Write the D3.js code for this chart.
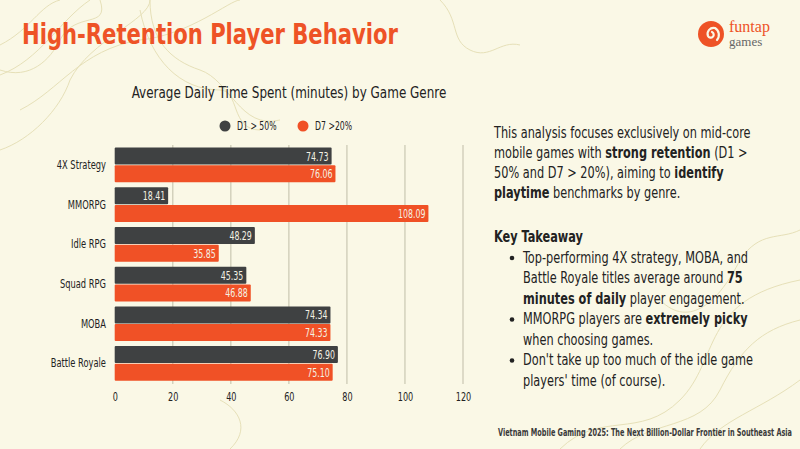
<!DOCTYPE html>
<html>
<head>
    <title></title>
    <meta charset="utf-8">
    <style>
        body { margin: 0; background: #FAF8E6; }
        svg { display: block; }
        text { font-family: 'DejaVu Sans Condensed', 'DejaVu Sans', sans-serif; }
    </style>
</head>
<body>
<script src="https://cdn.jsdelivr.net/npm/d3@7"></script>
<script>
    var genres = ['4X Strategy', 'MMORPG', 'Idle RPG', 'Squad RPG', 'MOBA', 'Battle Royale'];
    var d1 = [74.73, 18.41, 48.29, 45.35, 74.34, 76.90];
    var d7 = [76.06, 108.09, 35.85, 46.88, 74.33, 75.10];
    var seriesNames = ['D1 > 50%', 'D7 >20%'];
    var xTicks = [0, 20, 40, 60, 80, 100, 120];

    var col = {
        bg: '#FAF8E6',
        dark: '#3F4142',
        orange: '#F05126',
        grid: '#D3D1BC',
        text: '#222222'
    };

    // no condensed font is installed, so squeeze text sideways instead
    function squeeze(sel, s) {
        sel.each(function () {
            var t = d3.select(this);
            var x = +t.attr('x') || 0, y = +t.attr('y') || 0;
            t.attr('x', 0).attr('y', 0)
                .attr('transform', 'translate(' + x + ',' + y + ') scale(' + s + ',1)');
        });
    }

    var svg = d3.select('body').append('svg')
        .attr('width', 800)
        .attr('height', 449);

    svg.append('rect').attr('width', 800).attr('height', 449).attr('fill', col.bg);

    // faint contour lines in the background
    var deco = svg.append('g').attr('fill', 'none').attr('stroke', '#E6E0B8').attr('stroke-width', 1);
    deco.append('path').attr('d', 'M0,45 C30,30 40,5 60,0');
    deco.append('path').attr('d', 'M0,75 C40,60 60,20 90,0');
    deco.append('path').attr('d', 'M0,70 C30,80 50,60 60,40 C75,10 110,30 100,0');
    deco.append('path').attr('d', 'M20,110 C60,90 80,50 140,40 C190,35 230,0 240,0');
    deco.append('path').attr('d', 'M0,150 C30,140 60,110 70,80 C90,40 150,20 150,0');
    deco.append('path').attr('d', 'M150,0 C150,40 170,60 200,70 C230,80 240,130 280,120');
    deco.append('path').attr('d', 'M140,10 C150,60 180,90 220,90 C240,90 230,130 260,130');
    deco.append('path').attr('d', 'M560,449 C600,410 640,440 680,400 C720,360 700,300 800,280');
    deco.append('path').attr('d', 'M620,449 C650,420 700,430 720,390 C740,350 760,330 800,320');
    deco.append('path').attr('d', 'M700,449 C720,420 760,410 800,380');
    deco.append('path').attr('d', 'M660,300 C690,330 720,300 740,260 C760,230 780,240 800,230');
    deco.append('path').attr('d', 'M230,449 C250,430 240,410 220,400');
    deco.append('path').attr('d', 'M440,0 C460,20 450,40 470,50 C490,60 500,40 520,45');

    // title
    svg.append('text')
        .attr('x', 22).attr('y', 44)
        .attr('fill', '#EE5326')
        .attr('font-size', 29)
        .attr('font-weight', 700)
        .text('High-Retention Player Behavior')
        .call(squeeze, 0.81);

    // logo
    var logo = svg.append('g').attr('transform', 'translate(711,34)');
    logo.append('circle').attr('r', 13).attr('fill', '#EE5326');
    logo.append('path')
        .attr('d', 'M1,-2 A3,3 0 1 1 -3,2 A6,6 0 0 1 4,-6 A8,8 0 0 1 6,6')
        .attr('fill', 'none').attr('stroke', col.bg).attr('stroke-width', 2.2).attr('stroke-linecap', 'round');
    svg.append('text').attr('x', 729).attr('y', 32)
        .attr('fill', '#EE5326').attr('font-size', 16)
        .style('font-family', "'Liberation Serif', 'DejaVu Serif', serif")
        .text('funtap');
    svg.append('text').attr('x', 729).attr('y', 46)
        .attr('fill', '#666').attr('font-size', 13)
        .style('font-family', "'Liberation Serif', 'DejaVu Serif', serif")
        .text('games');

    // chart title
    svg.append('text')
        .attr('x', 289).attr('y', 98)
        .attr('text-anchor', 'middle')
        .attr('fill', col.text)
        .attr('font-size', 15.5)
        .text('Average Daily Time Spent (minutes) by Game Genre')
        .call(squeeze, 0.86);

    // legend
    var legend = svg.append('g');
    [[225, col.dark], [303, col.orange]].forEach(function (l, i) {
        legend.append('circle').attr('cx', l[0]).attr('cy', 126).attr('r', 5.5).attr('fill', l[1]);
        legend.append('text').attr('x', l[0] + 12).attr('y', 130)
            .attr('font-size', 12).attr('fill', col.text).text(seriesNames[i])
            .call(squeeze, 0.72);
    });

    // scales
    var x = d3.scaleLinear().domain([0, 120]).range([114.7, 463]);
    var y = d3.scaleBand().domain(genres).range([145.2, 383.2]).paddingInner(0.125).paddingOuter(0.06);
    var sub = d3.scaleBand().domain([0, 1]).range([0, y.bandwidth()]).paddingInner(0.04);

    // grid
    svg.append('g').selectAll('line').data(xTicks.slice(1)).join('line')
        .attr('x1', x).attr('x2', x)
        .attr('y1', 145).attr('y2', 384)
        .attr('stroke', col.grid).attr('stroke-width', 1.5);

    // x axis
    var xAxis = svg.append('g')
        .attr('transform', 'translate(0,386)')
        .call(d3.axisBottom(x).tickValues(xTicks).tickSize(0).tickPadding(6));
    xAxis.select('.domain').remove();
    xAxis.selectAll('text').attr('font-size', 12.5).attr('fill', col.text)
        .style('font-family', "'DejaVu Sans Condensed', 'DejaVu Sans', sans-serif")
        .call(squeeze, 0.72);

    // y axis
    var yAxis = svg.append('g')
        .attr('transform', 'translate(106,0)')
        .call(d3.axisLeft(y).tickSize(0).tickPadding(0));
    yAxis.select('.domain').remove();
    yAxis.selectAll('text').attr('font-size', 12.5).attr('fill', col.text)
        .style('font-family', "'DejaVu Sans Condensed', 'DejaVu Sans', sans-serif")
        .call(squeeze, 0.74);

    // bars
    var rows = genres.map(function (g, i) { return { genre: g, vals: [d1[i], d7[i]] }; });
    var groups = svg.append('g').selectAll('g').data(rows).join('g')
        .attr('transform', function (d) { return 'translate(0,' + y(d.genre) + ')'; });

    var bars = groups.selectAll('g').data(function (d) {
        return d.vals.map(function (v, j) { return { v: v, j: j }; });
    }).join('g');

    bars.append('rect')
        .attr('x', x(0))
        .attr('y', function (d) { return sub(d.j); })
        .attr('width', function (d) { return x(d.v) - x(0); })
        .attr('height', sub.bandwidth())
        .attr('rx', 1)
        .attr('fill', function (d) { return d.j === 0 ? col.dark : col.orange; });

    bars.append('text')
        .attr('x', function (d) { return x(d.v) - 3; })
        .attr('y', function (d) { return sub(d.j) + sub.bandwidth() / 2 + 4.5; })
        .attr('text-anchor', 'end')
        .attr('font-size', 12.5)
        .attr('fill', '#F4F1E4')
        .text(function (d) { return d.v.toFixed(2); })
        .call(squeeze, 0.7);

    // right text block
    var bs = 0.84;
    var para = [
        [['This analysis focuses exclusively on mid-core', 0]],
        [['mobile games with ', 0], ['strong retention', 1], [' (D1 >', 0]],
        [['50% and D7 > 20%), aiming to ', 0], ['identify', 1]],
        [['playtime', 1], [' benchmarks by genre.', 0]]
    ];
    var block = svg.append('g')
        .attr('transform', 'translate(494,0) scale(' + bs + ',1)')
        .attr('font-size', 15).attr('fill', col.text);
    function writeLines(lines, x0, y0, lh) {
        lines.forEach(function (line, i) {
            var t = block.append('text').attr('x', x0).attr('y', y0 + i * lh);
            line.forEach(function (seg) {
                t.append('tspan').attr('font-weight', seg[1] ? 700 : 400).text(seg[0]);
            });
        });
    }
    writeLines(para, 0, 138, 20);

    block.append('text').attr('x', 0).attr('y', 242).attr('font-weight', 700).text('Key Takeaway');

    var bullets = [
        [[['Top-performing 4X strategy, MOBA, and', 0]],
         [['Battle Royale titles average around ', 0], ['75', 1]],
         [['minutes of daily', 1], [' player engagement.', 0]]],
        [[['MMORPG players are ', 0], ['extremely picky', 1]],
         [['when choosing games.', 0]]],
        [[["Don't take up too much of the idle game", 0]],
         [["players' time (of course).", 0]]]
    ];
    var by = 263;
    bullets.forEach(function (b) {
        block.append('ellipse').attr('cx', (512 - 494) / bs).attr('cy', by - 5)
            .attr('rx', 2.3 / bs).attr('ry', 2.3).attr('fill', col.text);
        writeLines(b, (523 - 494) / bs, by, 20.5);
        by += b.length * 20.5;
    });

    // footer
    svg.append('text')
        .attr('x', 792).attr('y', 436)
        .attr('text-anchor', 'end')
        .attr('font-size', 11)
        .attr('font-weight', 700)
        .attr('fill', '#3A3A3A')
        .text('Vietnam Mobile Gaming 2025: The Next Billion-Dollar Frontier in Southeast Asia')
        .call(squeeze, 0.66);
</script>
</body>
</html>
